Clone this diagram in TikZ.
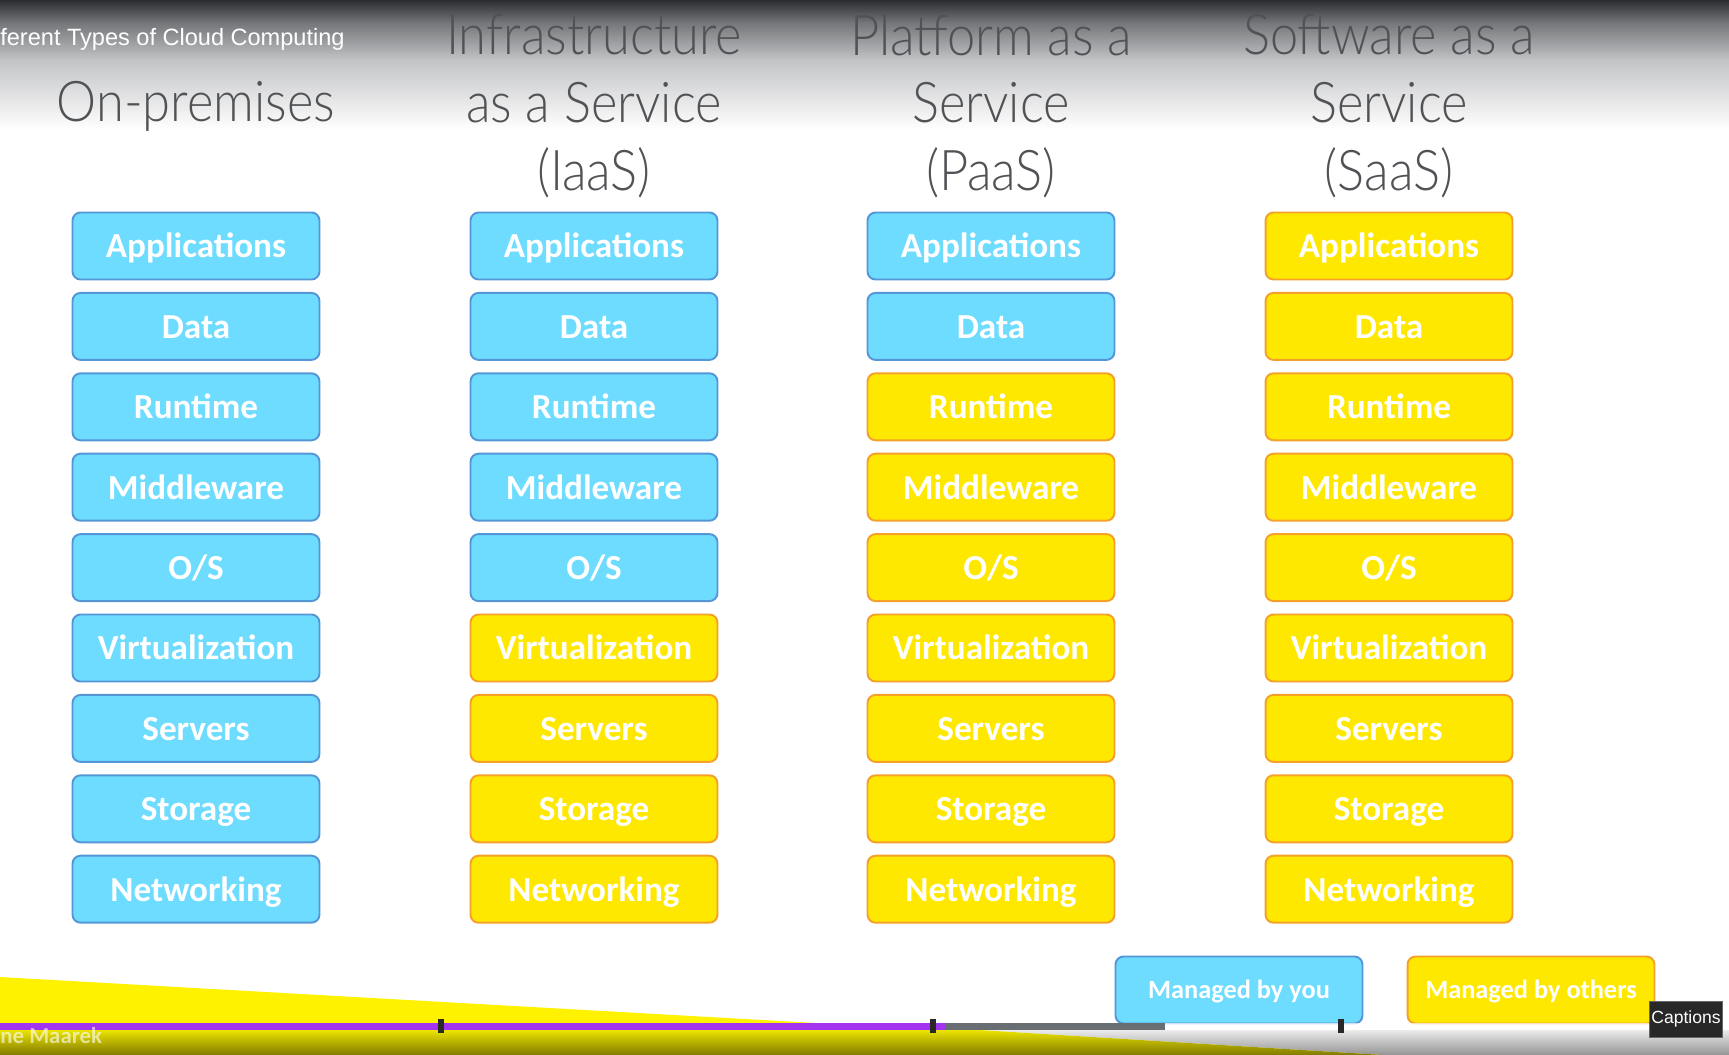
\documentclass[tikz,border=0pt]{standalone}
\usepackage{fontspec}
\setmainfont{Carlito}
\newfontfamily\headfont[FakeStretch=0.9]{Lato Light}
\newfontfamily\uifont{Liberation Sans}
\definecolor{youfill}{RGB}{110,220,255}
\definecolor{youline}{RGB}{85,150,215}
\definecolor{othfill}{RGB}{255,232,0}
\definecolor{othline}{RGB}{245,160,40}
\definecolor{headgray}{RGB}{80,82,85}
\definecolor{topdark}{RGB}{43,45,50}
\definecolor{topmid}{RGB}{115,117,120}
\definecolor{toplight}{RGB}{195,196,198}
\definecolor{barpurple}{RGB}{162,52,240}
\definecolor{bargray}{RGB}{105,110,115}
\definecolor{tipdark}{RGB}{40,40,40}

\begin{document}
\begin{tikzpicture}[x=0.02cm,y=-0.02cm,
  layer/.style={rounded corners=0.16cm,line width=1.1pt,inner sep=0pt,
    minimum width=4.94cm,minimum height=1.34cm,text=white,
    text height=17pt,text depth=3.4pt,font=\fontsize{20}{24}\selectfont\bfseries},
  you/.style={layer,fill=youfill,draw=youline},
  others/.style={layer,fill=othfill,draw=othline},
  keybox/.style={text height=12pt,text depth=2.5pt,font=\fontsize{15}{18}\selectfont\bfseries},
  heading/.style={align=center,text=headgray,inner sep=0pt,
    font=\headfont\fontsize{32}{38.5}\selectfont}]
  \useasboundingbox (0,0) rectangle (1729,1055);
  \fill[white] (0,0) rectangle (1729,1055);
  \shade[top color=topdark,bottom color=topmid] (0,0) rectangle (1729,22.5);
  \shade[top color=topmid,bottom color=toplight] (0,22) rectangle (1729,60.5);
  \shade[top color=toplight,bottom color=white] (0,60) rectangle (1729,130);

  \node[anchor=west,inner sep=0pt,text=white,font=\uifont\fontsize{13.4}{16}\selectfont] (deck) at (0,39) {ferent Types of Cloud Computing};

  \node[heading] (hd1) at (196,106) {On-premises};
  \node[heading] (hd2) at (594,106) {Infrastructure\\as a Service\\(IaaS)};
  \node[heading] (hd3) at (991,106) {Platform as a\\Service\\(PaaS)};
  \node[heading] (hd4) at (1389,106) {Software as a\\Service\\(SaaS)};

  \foreach \lbl [count=\r] in {Applications,Data,Runtime,Middleware,O/S,Virtualization,Servers,Storage,Networking}
    \foreach \cx/\nb [count=\c] in {196/9,594/5,991/2,1389/0} {
      \ifnum\r>\nb\relax\def\kind{others}\else\def\kind{you}\fi
      \node[\kind] (c\c r\r) at (\cx,{246+80.4*(\r-1)}) {\lbl};
    }

  \node[you,keybox] (keyyou) at (1239,990) {Managed by you};
  \node[others,keybox] (keyothers) at (1531,990) {Managed by others};

  \fill[yellow] (0,977) -- (1383,1055) -- (0,1055) -- cycle;
  \shade[top color=black!8,bottom color=black!42] (979,1030) -- (1729,1030) -- (1729,1055) -- (1383,1055) -- cycle;
  \shade[top color={rgb,255:red,235;green,228;blue,0},bottom color={rgb,255:red,128;green,122;blue,0}] (0,1030) -- (979,1030) -- (1383,1055) -- (0,1055) -- cycle;
  \fill[white,opacity=.7] (1165,1023) rectangle (1729,1030);
  \fill[barpurple] (0,1023) rectangle (946,1030);
  \fill[bargray] (946,1023) rectangle (1165,1030);
  \foreach \tx in {441,933,1341}
    \fill[tipdark] (\tx-3,1019) rectangle (\tx+3,1033);
  \node[anchor=west,inner sep=0pt,text=white,opacity=.6,font=\fontsize{13}{15}\selectfont\bfseries] (owner) at (0,1036) {ne Maarek};
  \node[fill=tipdark,draw=black!60,text=white,inner sep=0pt,minimum width=1.46cm,minimum height=0.72cm,
    font=\uifont\fontsize{10}{12}\selectfont] (capt) at (1686,1019) {Captions};
\end{tikzpicture}
\end{document}
